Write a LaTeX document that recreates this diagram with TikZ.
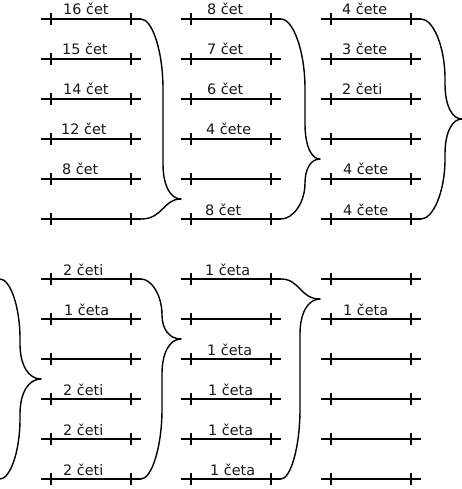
\documentclass[tikz,border=0pt]{standalone}
\usepackage{fontspec}
\setmainfont{DejaVu Sans}
% long half of a brace: xs, ys, xv, xt, ym, s (+1 down, -1 up)
\newcommand{\halfb}[6]{%
  \pgfmathsetmacro\hbL{abs(#5-#2)}%
  \pgfmathsetmacro\hbc{min(70,0.6*\hbL)}%
  \pgfmathsetmacro\hbd{min(35,0.4*\hbL)}%
  \draw[bracestyle] (#1,#2) .. controls ({#1+0.5*(#3-#1)},#2) and (#3,{#2+#6*0.45*\hbc}) .. (#3,{#2+#6*\hbc})
    -- (#3,{#5-#6*\hbd}) .. controls (#3,{#5-#6*0.4*\hbd}) and ({#3+0.4*(#4-#3)},#5) .. (#4,#5);}
% short half of a brace: xs, ys, xv, xt, ym
\newcommand{\shortb}[5]{%
  \draw[bracestyle] (#1,#2) .. controls (#3,#2) and (#3,#5) .. (#4,#5);}
\newcommand{\seg}[2]{% x0, y
  \draw[segline] (#1,#2) -- (#1+100,#2);
  \draw[segline] (#1+10,#2-6) -- (#1+10,#2+6);
  \draw[segline] (#1+90,#2-6) -- (#1+90,#2+6);}
\begin{document}
\begin{tikzpicture}[x=1pt,y=-1pt,
  segline/.style={line width=1.4pt},
  bracestyle/.style={line width=1.4pt,line cap=round},
  lab/.style={anchor=base west,inner sep=0pt,font=\fontsize{14.4}{16}\selectfont,text=black!90}]
\useasboundingbox (0,0) rectangle (462,489);
% segments
\foreach \x in {41,181,321}{
  \foreach \y in {19,59,99,139,179,219,279,319,359,399,439,479}{
    \seg{\x}{\y}
  }
}
% braces (top row)
\halfb{141}{19}{163}{181}{199}{1}
\shortb{141}{219}{163}{181}{199}
\halfb{281}{19}{305}{320}{159}{1}
\halfb{281}{219}{305}{320}{159}{-1}
\halfb{421}{19}{445}{462}{119}{1}
\halfb{421}{219}{445}{462}{119}{-1}
% braces (bottom row)
\halfb{0}{279}{20}{41}{379}{1}
\halfb{0}{479}{20}{41}{379}{-1}
\halfb{141}{279}{162}{181}{339}{1}
\halfb{141}{479}{162}{181}{339}{-1}
\shortb{281}{279}{300}{320}{299}
\halfb{281}{479}{300}{320}{299}{-1}
% labels top
\node[lab] (a1) at (63,15) {16 čet};
\node[lab] (a2) at (62,55) {15 čet};
\node[lab] (a3) at (63,95) {14 čet};
\node[lab] (a4) at (61,135) {12 čet};
\node[lab] (a5) at (62,175) {8 čet};
\node[lab] (b1) at (207,15) {8 čet};
\node[lab] (b2) at (207,55) {7 čet};
\node[lab] (b3) at (207,95) {6 čet};
\node[lab] (b4) at (206,135) {4 čete};
\node[lab] (b6) at (205,215) {8 čet};
\node[lab] (c1) at (342,15) {4 čete};
\node[lab] (c2) at (342,55) {3 čete};
\node[lab] (c3) at (342,95) {2 četi};
\node[lab] (c5) at (343,175) {4 čete};
\node[lab] (c6) at (343,215) {4 čete};
% labels bottom
\node[lab] (d1) at (63,275) {2 četi};
\node[lab] (d2) at (64,315) {1 četa};
\node[lab] (d4) at (63,395) {2 četi};
\node[lab] (d5) at (63,435) {2 četi};
\node[lab] (d6) at (63,475) {2 četi};
\node[lab] (e1) at (205,275) {1 četa};
\node[lab] (e3) at (207,355) {1 četa};
\node[lab] (e4) at (208,395) {1 četa};
\node[lab] (e5) at (208,435) {1 četa};
\node[lab] (e6) at (210,475) {1 četa};
\node[lab] (f2) at (343,315) {1 četa};
\end{tikzpicture}
\end{document}
